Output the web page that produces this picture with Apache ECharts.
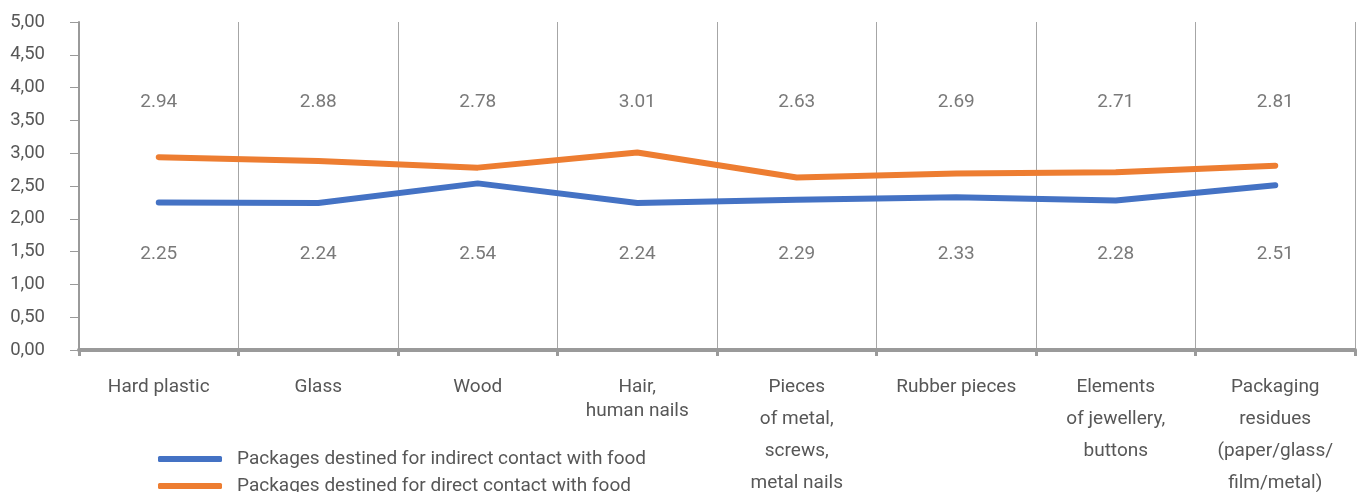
<!DOCTYPE html>
<html lang="en">
<head>
    <meta charset="utf-8">
    <script src="https://cdn.jsdelivr.net/npm/echarts@6/dist/echarts.min.js"></script>
    <style>
        html, body { margin: 0; padding: 0; background: #fff; }
        #chart { width: 1359px; height: 492px; }
    </style>
</head>
<body>
<div id="chart"></div>
<script>
    var categories = ['Hard plastic', 'Glass', 'Wood', 'Hair,\nhuman nails',
        'Pieces\nof metal,\nscrews,\nmetal nails', 'Rubber pieces',
        'Elements\nof jewellery,\nbuttons', 'Packaging\nresidues\n(paper/glass/\nfilm/metal)'];
    var indirect = [2.25, 2.24, 2.54, 2.24, 2.29, 2.33, 2.28, 2.51];
    var direct = [2.94, 2.88, 2.78, 3.01, 2.63, 2.69, 2.71, 2.81];
    var seriesNames = ['Packages destined for indirect contact with food',
        'Packages destined for direct contact with food'];

    // value labels sit in two fixed rows, like a table under the plot
    var topRow = 3.78, bottomRow = 1.46;

    var textColor = '#575757';
    var font = 'Roboto';

    var myChart = echarts.init(document.getElementById('chart'));

    function rowData(values, y) {
        return values.map(function (v, i) { return [i, y, v]; });
    }

    var rowLabel = {
        show: true,
        position: 'inside',
        color: textColor,
        fontSize: 19,
        fontFamily: font,
        formatter: function (p) { return p.value[2].toFixed(2); }
    };

    var option = {
        animation: false,
        textStyle: { fontFamily: font },
        grid: { left: 79, right: 4, top: 22, bottom: 142, outerBoundsMode: 'none' },
        legend: {
            data: seriesNames,
            orient: 'vertical',
            left: 158,
            top: 449,
            height: 120,
            padding: 0,
            icon: 'roundRect',
            itemWidth: 64,
            itemHeight: 6,
            itemGap: 7,
            textStyle: { color: textColor, fontSize: 19, lineHeight: 20, fontFamily: font, padding: [0, 0, 0, 10] }
        },
        xAxis: {
            type: 'category',
            data: categories,
            boundaryGap: true,
            axisLine: { lineStyle: { color: '#9a9a9a', width: 4 } },
            axisTick: { show: true, length: 6, lineStyle: { color: '#9a9a9a', width: 3 } },
            splitLine: { show: true, lineStyle: { color: '#a6a6a6', width: 1 } },
            axisLabel: {
                interval: 0,
                margin: 21,
                color: textColor,
                fontSize: 19,
                fontFamily: font,
                formatter: function (v, i) {
                    return v.split('\n').map(function (t, k) {
                        // the two-line "Hair" label is set tighter than the others
                        var tag = (i === 3 && k > 0) ? 's' : 'n';
                        return '{' + tag + '|' + t + '}';
                    }).join('\n');
                },
                rich: {
                    n: { color: textColor, fontSize: 19, fontFamily: font, lineHeight: 32 },
                    s: { color: textColor, fontSize: 19, fontFamily: font, lineHeight: 16 }
                }
            }
        },
        yAxis: {
            type: 'value',
            min: 0,
            max: 5,
            interval: 0.5,
            axisLine: { show: true, lineStyle: { color: '#9a9a9a', width: 2 } },
            axisTick: { show: true, length: 9, lineStyle: { color: '#9a9a9a', width: 1 } },
            splitLine: { show: false },
            axisLabel: {
                margin: 34,
                color: textColor,
                fontSize: 18.5,
                fontFamily: font,
                formatter: function (v) { return v.toFixed(2).replace('.', ','); }
            }
        },
        series: [{
            name: seriesNames[0],
            type: 'line',
            data: indirect,
            symbol: 'none',
            itemStyle: { color: '#4472C4' },
            lineStyle: { color: '#4472C4', width: 6, cap: 'round', join: 'round' },
            z: 3
        }, {
            name: seriesNames[1],
            type: 'line',
            data: direct,
            symbol: 'none',
            itemStyle: { color: '#ED7D31' },
            lineStyle: { color: '#ED7D31', width: 6, cap: 'round', join: 'round' },
            z: 3
        }, {
            name: 'directLabels',
            type: 'scatter',
            symbolSize: 0,
            data: rowData(direct, topRow),
            label: rowLabel,
            silent: true
        }, {
            name: 'indirectLabels',
            type: 'scatter',
            symbolSize: 0,
            data: rowData(indirect, bottomRow),
            label: rowLabel,
            silent: true
        }]
    };

    myChart.setOption(option);
</script>
</body>
</html>
